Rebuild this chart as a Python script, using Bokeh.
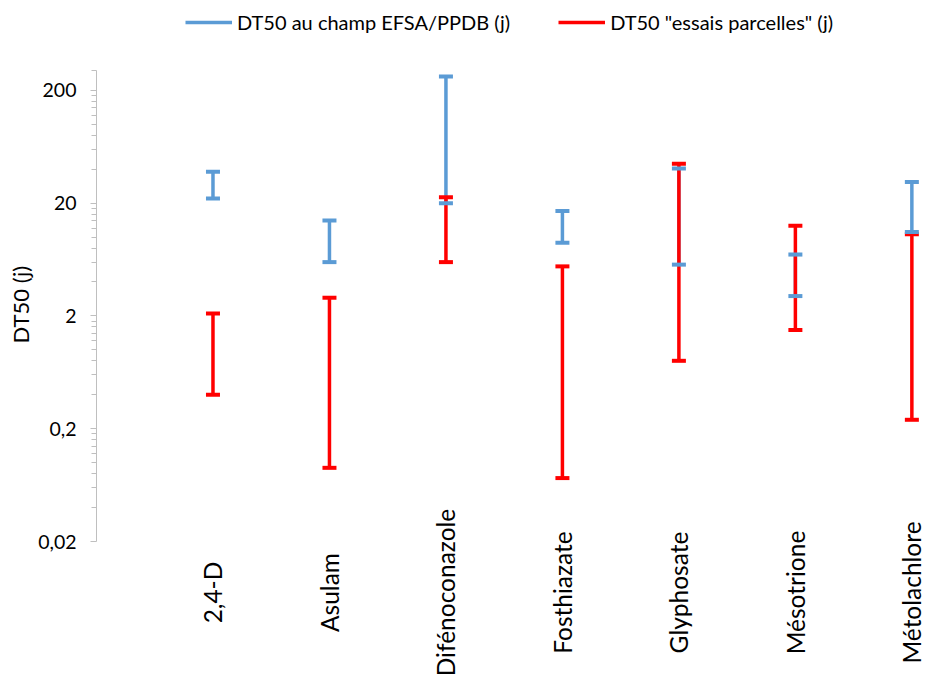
import math
from bokeh.plotting import figure
from bokeh.models import (ColumnDataSource, Range1d, FixedTicker, LinearScale,
                          Legend, LegendItem, Title)
from bokeh.core.properties import value
from bokeh.embed import file_html
from bokeh.resources import INLINE

# ---- data ----
categories = ["2,4-D", "Asulam", "Difénoconazole", "Fosthiazate",
              "Glyphosate", "Mésotrione", "Métolachlore"]
efsa_min = [22, 6.0, 20, 8.9, 5.7, 3.0, 11.1]
efsa_max = [38, 14, 266, 17, 40.6, 7.0, 30.8]
essais_min = [0.4, 0.09, 6.0, 0.073, 0.8, 1.5, 0.24]
essais_max = [2.1, 2.9, 22.6, 5.5, 44.6, 12.6, 10.6]
y_ticks = [0.02, 0.2, 2, 20, 200]
y_tick_labels = ["0,02", "0,2", "2", "20", "200"]
y_min, y_max = 0.02, 300

# ---- layout / style ----
W, H = 930, 676
LEFT = 96            # frame left (y axis position)
AX_TOP, AX_BOT = 70, 541   # pixel rows of the axis ends
PX_PER_DEC = (AX_BOT - AX_TOP) / math.log10(y_max / y_min)
BLUE = "#5B9BD5"
RED = "#FF0000"
FONT = "Lato"

# frame spans the full canvas height; the axis itself is bounded
r_lo = y_min * 10 ** (-(H - AX_BOT) / PX_PER_DEC)
r_hi = y_max * 10 ** (AX_TOP / PX_PER_DEC)

xpos = list(range(1, len(categories) + 1))
src_b = ColumnDataSource(dict(x=xpos, lo=efsa_min, hi=efsa_max))
src_r = ColumnDataSource(dict(x=xpos, lo=essais_min, hi=essais_max))

p = figure(width=W, height=H, output_backend="svg", toolbar_location=None,
           y_axis_type="log", x_range=Range1d(0, 7.16),
           y_range=Range1d(r_lo, r_hi),
           min_border_left=LEFT, min_border_top=0, min_border_bottom=0,
           min_border_right=0)
p.outline_line_color = None
p.grid.visible = False
p.xaxis.visible = False
p.extra_y_ranges = {"px": Range1d(H, 0)}
p.extra_y_scales = {"px": LinearScale()}

# error bars
rb = p.segment(x0="x", y0="lo", x1="x", y1="hi", source=src_b,
               line_color=BLUE, line_width=3.5)
rr = p.segment(x0="x", y0="lo", x1="x", y1="hi", source=src_r,
               line_color=RED, line_width=3.5)
for src, col in ((src_r, RED), (src_b, BLUE)):
    for key in ("lo", "hi"):
        p.scatter(x="x", y=key, source=src, marker="dash", size=14,
                  line_color=col, line_width=4)

# y axis
minor = [t * m for t in y_ticks for m in range(2, 10) if t * m <= y_max] + [y_max]
yax = p.yaxis[0]
yax.bounds = (y_min, y_max)
yax.ticker = FixedTicker(ticks=y_ticks, minor_ticks=minor)
yax.major_label_overrides = {t: l for t, l in zip(y_ticks, y_tick_labels)}
yax.axis_line_color = "#BFBFBF"
yax.major_tick_line_color = "#BFBFBF"
yax.minor_tick_line_color = "#BFBFBF"
yax.major_tick_out = 6
yax.major_tick_in = 0
yax.minor_tick_out = 5
yax.minor_tick_in = 0
yax.major_label_standoff = 14
yax.major_label_text_font = FONT
yax.major_label_text_font_size = "19.5px"
yax.major_label_text_color = "#000000"

# y axis title
p.add_layout(Title(text="DT50 (j)", align="left", offset=H - 343,
                   vertical_align="middle", standoff=2,
                   text_font=FONT, text_font_size="22px",
                   text_font_style="normal", text_color="#000000"), "left")

# category labels (rotated, below the axis end)
lab_src = ColumnDataSource(dict(x=xpos, y=[592] * len(xpos), t=categories))
p.text(x="x", y="y", text="t", source=lab_src, y_range_name="px",
       angle=math.pi / 2, text_align="center", text_baseline="middle",
       text_font=value(FONT), text_font_size="24.5px", text_color="#000000")

legend = Legend(items=[LegendItem(label="DT50 au champ EFSA/PPDB (j)", renderers=[rb]),
                       LegendItem(label='DT50 "essais parcelles" (j)', renderers=[rr])],
                orientation="horizontal", location=(89, H - 34),
                border_line_color=None, background_fill_alpha=0,
                padding=0, margin=0, spacing=48, label_standoff=5,
                glyph_width=47, glyph_height=20, label_height=20,
                label_text_font=FONT, label_text_font_size="20px",
                label_text_color="#000000")
p.add_layout(legend)

open("out.html", "w").write(file_html(p, INLINE))
